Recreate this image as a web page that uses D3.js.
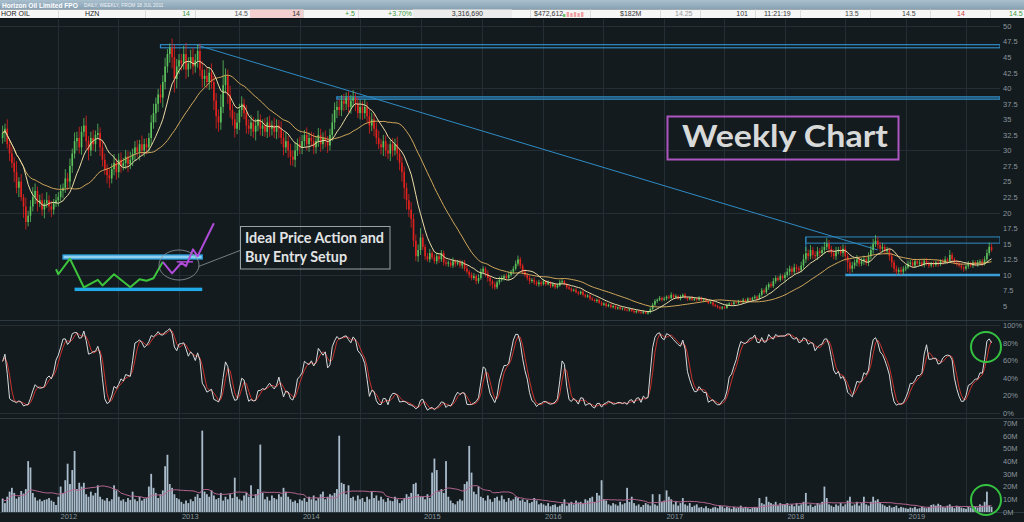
<!DOCTYPE html>
<html>
<head>
<meta charset="utf-8">
<script src="https://cdn.jsdelivr.net/npm/d3@7"></script>
<style>
  html, body { margin: 0; padding: 0; background: #131b1f; overflow: hidden; }
  svg { display: block; }
</style>
</head>
<body>
<svg id="chart" width="1024" height="522"></svg>
<script>
// weekly bars, HZN, from 18 Jul 2011
const startDate = new Date(2011, 6, 18);
const firstOpen = 32.0;

const closes = [
  // 2011
  32.8,33.5,31.0,29.5,28.0,26.5,24.0,25.0,22.5,21.0,18.5,19.5,21.0,22.5,23.5,21.5,22.0,20.5,21.5,22.0,21.0,20.5,21.5,22.0,
  // 2012
  22.5,23.5,24.0,25.5,25.0,27.5,29.5,31.5,32.0,30.5,33.0,34.0,31.5,30.0,32.0,31.0,32.5,32.8,30.5,28.5,27.0,26.0,25.5,27.0,28.0,26.5,
  28.5,27.5,28.0,29.0,27.8,28.5,29.5,30.5,29.8,31.0,30.0,31.0,30.5,32.0,34.5,36.0,37.5,39.0,38.5,41.0,43.5,45.5,46.5,45.0,41.5,43.5,44.5,
  // 2013
  44.0,45.5,43.0,44.0,45.0,43.5,44.5,46.0,43.0,41.5,42.0,41.0,42.5,41.0,38.0,35.5,34.5,37.0,40.5,42.0,39.0,36.5,35.0,33.5,34.5,36.5,
  37.5,36.0,34.0,33.5,34.5,33.0,34.0,35.0,33.5,34.0,33.0,34.5,33.5,34.0,33.0,34.0,33.5,32.0,30.5,31.5,30.0,29.0,28.5,30.0,31.0,30.5,
  // 2014
  31.5,32.5,31.0,32.0,31.5,30.5,31.5,32.5,31.0,32.0,31.5,30.8,32.5,34.5,36.5,37.0,36.5,38.0,37.5,38.5,37.0,38.0,38.5,37.5,36.0,37.0,
  36.0,37.0,35.5,34.0,35.0,33.5,32.0,31.0,30.5,31.5,30.0,29.5,31.0,30.0,31.0,29.5,28.0,26.5,24.0,22.0,20.5,19.0,15.5,13.0,14.0,16.0,
  // 2015
  14.5,13.0,12.5,13.5,12.8,12.2,13.0,12.5,13.5,12.0,11.8,12.0,11.5,12.2,11.8,12.0,11.5,12.0,11.0,10.5,10.0,9.5,9.8,9.0,9.5,10.5,
  11.0,10.2,9.5,9.0,8.5,8.0,8.8,9.2,9.5,9.8,9.5,10.0,10.5,11.0,11.8,12.5,11.5,10.5,10.0,9.5,9.0,9.2,8.8,8.5,8.8,8.5,
  // 2016
  9.0,8.5,8.8,8.2,8.5,8.0,8.3,8.8,9.0,8.5,8.0,7.8,7.5,7.6,7.2,7.0,7.3,6.8,6.5,6.7,6.2,6.0,5.8,6.0,5.5,5.2,
  5.4,5.0,5.2,4.8,5.0,4.6,4.8,4.5,4.6,4.4,4.3,4.5,4.2,4.0,4.2,4.0,3.9,4.1,3.8,4.0,4.5,5.2,5.8,6.0,6.3,6.0,
  // 2017
  6.2,6.5,6.3,6.8,6.4,6.6,6.2,6.5,6.8,6.3,6.1,6.3,6.0,6.2,6.0,6.3,5.9,6.1,5.8,5.5,5.6,5.2,5.0,4.8,4.6,4.8,
  4.7,5.2,5.4,5.3,5.6,5.5,5.8,5.6,6.0,5.8,6.2,6.0,6.3,6.5,6.2,6.8,7.5,7.2,8.0,8.5,8.2,9.0,9.5,9.2,9.8,9.5,
  // 2018
  10.0,10.5,11.0,10.5,11.2,11.0,10.8,11.5,12.5,13.5,13.0,14.0,13.2,13.0,13.8,13.5,14.0,14.5,15.0,14.2,13.5,13.0,13.8,14.0,13.5,14.2,
  13.0,12.0,11.0,11.5,12.0,12.5,11.8,12.2,12.5,12.0,13.0,14.0,15.0,15.5,14.8,14.2,14.5,13.8,14.0,13.0,12.0,11.0,10.5,10.8,10.5,11.0,
  // 2019
  11.2,11.8,12.0,11.5,12.2,11.8,12.0,11.6,12.3,11.8,11.5,11.8,11.6,12.0,11.7,12.2,12.0,12.5,12.2,13.2,
  12.5,12.0,11.8,11.5,11.2,11.0,11.4,11.8,11.5,12.0,11.7,12.0,12.2,11.8,12.5,13.5,14.5,14.0
];

// wick above the body / below the body, per week
const wickUp = [
  1.2,0.8,1.5,0.6,1.0,0.9,1.8,0.7,1.2,0.5,1.4,0.8,1.0,1.6,1.2,0.7,0.9,1.1,0.6,1.3,0.8,0.9,0.7,1.0,
  0.8,1.0,0.7,1.5,0.9,1.2,0.8,1.4,1.0,1.8,0.9,1.2,1.6,0.8,1.0,1.3,0.7,1.5,0.9,1.1,1.0,0.8,1.2,0.9,1.4,0.7,1.0,1.2,0.8,1.1,
  0.9,1.3,0.8,1.0,1.2,0.7,1.4,0.9,1.0,0.8,1.2,1.5,1.0,0.9,1.6,1.1,1.4,0.8,0.7,1.5,2.0,1.2,1.0,
  1.0,1.3,1.8,1.0,1.2,1.5,1.0,1.0,1.2,1.4,1.0,1.3,0.9,1.5,1.0,1.2,1.1,2.0,4.0,1.2,1.0,1.4,0.9,1.2,1.5,1.0,
  1.2,0.8,1.3,1.0,1.2,0.9,1.1,1.4,0.8,1.0,1.2,0.9,1.1,0.8,1.3,1.0,0.9,1.2,1.0,1.4,0.8,1.1,1.0,1.3,0.9,1.2,
  1.0,0.8,1.2,0.9,1.0,1.3,0.8,1.1,1.0,0.9,1.2,0.8,1.0,1.4,1.2,1.0,1.3,0.9,1.1,0.8,1.0,0.9,1.2,0.8,1.0,1.1,
  0.9,1.2,0.8,1.0,1.1,0.9,1.0,1.2,0.8,1.0,0.9,1.1,0.8,1.0,0.9,1.2,0.8,1.0,0.9,0.8,1.0,1.2,0.8,1.0,0.9,1.5,
  0.6,0.4,0.5,0.7,0.4,0.5,0.6,0.3,0.5,0.4,0.5,0.3,0.4,0.6,0.3,0.4,0.5,0.3,0.4,0.5,0.3,0.4,0.5,0.3,0.6,0.5,
  0.4,0.3,0.5,0.4,0.3,0.4,0.3,0.5,0.4,0.3,0.4,0.5,0.3,0.4,0.5,0.6,0.4,0.3,0.4,0.3,0.4,0.3,0.4,0.3,0.4,0.3,
  0.3,0.2,0.3,0.2,0.3,0.2,0.3,0.4,0.3,0.2,0.2,0.3,0.2,0.2,0.3,0.2,0.2,0.3,0.2,0.2,0.2,0.3,0.2,0.2,0.2,0.3,
  0.2,0.2,0.2,0.2,0.2,0.2,0.1,0.2,0.2,0.1,0.2,0.2,0.1,0.2,0.2,0.1,0.2,0.2,0.1,0.2,0.3,0.3,0.3,0.2,0.3,0.2,
  0.3,0.2,0.3,0.4,0.2,0.3,0.2,0.3,0.2,0.3,0.2,0.2,0.3,0.2,0.2,0.3,0.2,0.2,0.2,0.2,0.2,0.2,0.2,0.2,0.2,0.2,
  0.2,0.2,0.2,0.2,0.2,0.2,0.2,0.2,0.3,0.2,0.2,0.2,0.2,0.3,0.2,0.3,0.4,0.3,0.4,0.3,0.4,0.5,0.4,0.3,0.4,0.3,
  0.4,0.6,0.5,0.4,0.6,0.5,0.4,0.6,0.8,1.0,0.6,0.8,0.5,0.6,0.7,0.5,0.6,0.8,0.9,0.6,0.5,0.6,0.7,0.5,0.6,0.7,
  0.5,0.4,0.5,0.6,0.5,0.7,0.4,0.5,0.6,0.4,0.6,0.7,0.8,0.9,0.6,0.5,0.6,0.4,0.5,0.4,0.5,0.4,0.5,0.4,0.5,0.4,
  0.4,0.5,0.4,0.5,0.4,0.3,0.5,0.4,0.3,0.4,0.4,0.3,0.4,0.3,0.4,0.3,0.4,0.5,0.3,0.8,
  0.4,0.3,0.4,0.3,0.4,0.3,0.3,0.4,0.3,0.4,0.3,0.4,0.3,0.4,0.5,0.6,0.7,0.5
];
const wickDown = [
  0.9,1.4,0.7,1.2,0.8,1.6,0.9,1.5,0.6,1.8,1.2,0.7,1.0,0.8,1.1,1.3,0.6,1.0,1.4,0.7,0.9,1.2,0.8,0.6,
  1.0,0.7,1.2,0.8,1.4,0.9,1.1,0.8,1.5,1.0,1.2,0.8,1.3,1.6,0.9,1.0,1.2,0.7,1.4,1.1,0.9,1.3,1.5,0.8,1.0,1.2,0.9,1.1,0.7,1.0,
  1.3,0.8,1.0,1.2,0.9,1.4,0.8,1.0,1.1,0.9,1.2,1.0,1.5,1.3,0.9,1.6,1.2,1.0,1.4,1.8,2.2,1.5,1.2,
  1.2,1.0,1.5,1.2,0.9,1.3,1.0,1.2,1.1,1.4,1.2,1.0,1.3,1.1,1.5,2.0,1.5,1.2,1.0,1.3,1.5,1.2,1.0,1.4,0.9,1.2,
  1.1,1.0,1.3,0.9,1.2,1.0,1.4,0.9,1.1,1.2,0.8,1.0,1.3,1.1,1.0,1.2,1.5,1.0,1.3,0.9,1.2,1.4,1.0,1.2,0.9,1.1,
  1.1,0.9,1.0,1.2,0.8,1.1,1.0,0.9,1.2,0.8,1.0,1.2,0.8,1.0,1.1,1.3,0.9,1.0,1.2,1.0,0.9,1.1,1.0,1.2,0.8,1.0,
  1.1,0.9,1.0,1.3,0.9,1.2,1.0,0.8,1.1,1.4,1.0,0.9,1.2,1.0,0.8,1.1,1.2,1.5,1.8,1.5,1.2,1.4,1.0,0.8,0.9,0.8,
  0.5,0.6,0.4,0.5,0.3,0.4,0.5,0.6,0.4,0.5,0.4,0.5,0.3,0.4,0.5,0.3,0.4,0.5,0.4,0.3,0.5,0.4,0.3,0.5,0.4,0.3,
  0.4,0.5,0.6,0.8,0.7,0.4,0.3,0.4,0.3,0.4,0.3,0.4,0.3,0.4,0.3,0.4,0.5,0.4,0.3,0.4,0.5,0.3,0.4,0.3,0.4,0.3,
  0.2,0.3,0.2,0.3,0.2,0.3,0.2,0.2,0.3,0.2,0.3,0.2,0.3,0.2,0.2,0.3,0.2,0.3,0.2,0.2,0.3,0.2,0.2,0.3,0.2,0.2,
  0.2,0.3,0.2,0.2,0.2,0.2,0.2,0.2,0.2,0.2,0.2,0.2,0.2,0.2,0.2,0.2,0.2,0.2,0.1,0.2,0.2,0.2,0.2,0.3,0.2,0.3,
  0.2,0.3,0.2,0.2,0.3,0.2,0.2,0.3,0.2,0.2,0.3,0.2,0.2,0.2,0.3,0.2,0.2,0.3,0.2,0.2,0.2,0.3,0.2,0.2,0.2,0.2,
  0.2,0.2,0.2,0.2,0.2,0.2,0.2,0.2,0.2,0.2,0.2,0.2,0.2,0.2,0.3,0.2,0.3,0.3,0.3,0.4,0.3,0.3,0.4,0.3,0.3,0.4,
  0.5,0.4,0.6,0.5,0.4,0.6,0.5,0.4,0.5,0.6,0.7,0.5,0.6,0.5,0.6,0.5,0.4,0.6,0.5,0.7,0.6,0.5,0.6,0.5,0.4,0.6,
  0.7,1.5,0.8,0.6,0.5,0.6,0.5,0.4,0.6,0.5,0.6,0.5,0.6,0.5,0.6,0.5,0.6,0.5,0.5,0.7,0.8,0.6,0.5,0.4,0.5,0.4,
  0.4,0.3,0.4,0.3,0.4,0.3,0.4,0.3,0.4,0.3,0.4,0.3,0.4,0.3,0.4,0.3,0.4,0.3,0.4,0.3,
  0.4,0.3,0.4,0.3,0.4,0.5,0.3,0.4,0.3,0.4,0.3,0.4,0.3,0.4,0.3,0.4,0.4,0.3
];

// weekly volume, millions of shares
const volumes = [
  10.5,7.0,12.0,16.0,19.0,15.0,10.5,12.0,16.5,14.5,18.0,40.0,35.0,15.0,11.5,9.0,10.0,8.5,9.5,10.0,11.0,9.0,8.0,5.5,
  12.0,20.0,15.0,25.0,38.0,22.0,33.0,48.0,18.0,23.0,20.0,23.0,14.0,12.0,16.0,13.0,15.0,21.0,12.0,10.0,
  9.0,11.0,8.5,10.0,21.0,17.0,12.0,9.0,10.0,8.0,11.0,9.5,16.0,10.0,8.5,12.0,9.0,10.5,11.0,20.0,
  30.0,19.0,15.0,11.0,14.0,17.0,36.0,45.0,22.0,19.0,14.0,11.0,10.0,
  8.0,6.5,9.0,7.0,10.0,8.5,12.0,14.0,11.0,64.0,16.0,14.0,12.0,17.0,13.0,10.0,11.0,15.0,9.0,12.0,
  10.0,14.0,11.0,27.0,12.0,10.0,9.0,13.0,15.0,12.0,21.0,11.0,14.0,18.0,53.0,15.0,10.0,12.0,9.0,13.0,
  11.0,10.0,14.0,12.0,19.0,16.0,12.0,10.0,8.0,9.0,7.0,10.0,
  9.0,11.0,8.0,12.0,10.0,13.0,9.0,11.0,14.0,16.0,10.0,12.0,14.0,13.0,15.0,18.0,60.0,23.0,22.0,14.0,
  21.0,11.0,12.0,9.0,13.0,10.0,11.0,8.0,12.0,10.0,16.0,11.0,13.0,9.0,12.0,10.0,8.0,11.0,9.0,8.5,
  12.0,10.0,7.0,9.0,11.0,14.0,12.0,15.0,22.0,23.0,14.0,12.0,
  12.0,10.0,14.0,11.0,31.0,42.0,33.0,16.0,18.0,15.0,40.0,12.0,9.0,7.0,6.0,8.5,10.0,9.0,22.0,24.0,
  52.0,31.0,16.0,14.0,20.0,12.0,11.0,9.0,13.0,10.0,8.0,11.0,12.0,9.0,13.0,10.0,8.0,11.0,9.0,10.0,
  12.0,11.0,9.0,10.0,8.0,9.5,7.0,8.0,11.0,9.0,6.0,7.0,
  6.0,5.0,7.0,4.5,5.5,6.0,4.0,5.0,6.5,10.0,5.0,7.0,8.0,6.0,9.0,7.5,8.0,6.5,10.0,9.0,
  11.0,12.0,8.0,15.0,13.0,25.0,10.0,9.0,6.0,5.0,7.0,6.0,5.0,8.0,6.0,7.0,19.0,8.0,12.0,7.0,
  5.0,6.0,4.0,5.5,7.0,6.0,5.0,14.0,6.0,5.0,14.0,8.0,
  9.0,17.0,12.0,10.0,6.0,8.0,5.0,7.0,11.0,6.0,5.0,7.0,4.0,5.0,6.0,3.5,4.0,3.0,4.5,3.0,
  2.5,3.5,4.0,3.0,5.0,4.5,3.0,4.0,3.5,2.5,4.0,3.0,3.5,5.0,3.0,4.0,3.0,2.5,3.5,4.0,
  3.5,11.0,7.0,6.0,12.0,8.0,7.0,6.0,8.0,5.0,7.0,6.0,
  6.0,7.0,5.0,6.0,4.5,7.0,5.0,6.0,8.0,15.0,5.0,6.0,4.0,5.0,7.0,6.0,8.0,20.0,11.0,6.0,
  5.0,4.0,6.0,5.0,7.0,4.5,6.0,9.0,12.0,5.0,6.0,8.0,5.0,7.0,12.0,6.0,5.0,8.0,12.0,9.0,
  10.0,7.0,6.0,5.0,4.0,5.0,3.5,4.0,5.0,3.0,4.0,3.5,
  3.0,2.5,3.5,3.0,4.0,2.5,3.0,4.0,3.5,3.0,4.0,5.5,6.0,5.0,6.5,5.5,4.0,3.5,5.0,6.0,
  4.0,3.0,5.0,4.0,3.5,3.0,2.5,4.0,3.5,3.0,4.0,3.5,6.0,5.0,8.0,16.0,5.0,4.0
];

const priceTicks = [5,7.5,10,12.5,15,17.5,20,22.5,25,27.5,30,32.5,35,37.5,40,42.5,45,47.5,50];
const priceGrid = [10,20,30,40,50];
const stochTicks = [0,20,40,60,80,100];
const volTicks = [0,10,20,30,40,50,60,70];

const headerLabels = ["HOR OIL","HZN","14","14.5","14","+.5","+3.70%","3,316,690","$472,612","$182M","14.25","101","11:21:19","13.5","14.5","14","14.5"];
const headerColors = ["#222","#222","#3d9b3d","#555","#333","#3d9b3d","#3d9b3d","#333","#333","#333","#999","#333","#333","#444","#444","#d03a3a","#3d9b3d"];

// the hand-drawn "ideal setup" sketch, in [week, price]
const setupGreen = [[23.0,10.9],[24.7,10.1],[29.1,12.6],[35.9,8.0],[41.3,9.2],[43.1,8.3],[48.4,10.1],[55.6,8.0],[59.2,9.3],[62.8,9.05],[65.7,9.45],[69.3,12.1]];
const setupPurple = [[69.3,12.1],[73.9,10.25],[77.2,11.95],[79.4,11.4],[82.2,14.1],[84.1,13.0],[91.6,18.3]];

// ---------------------------------------------------------------
const svg = d3.select("#chart");
const W = 1024, plotRight = 1000;

const opens = closes.map((c, i) => i === 0 ? firstOpen : closes[i - 1]);
const highs = closes.map((c, i) => Math.max(c, opens[i]) + wickUp[i]);
const lows = closes.map((c, i) => Math.min(c, opens[i]) - wickDown[i]);

const x = d3.scaleTime().domain([new Date(2012, 0, 1), new Date(2019, 0, 1)]).range([58, 906]);
const xw = i => x(d3.timeWeek.offset(startDate, i));
const yP = d3.scaleLinear().domain([5, 50]).range([306, 26]);
const yS = d3.scaleLinear().domain([0, 100]).range([413, 325]);
const yV = d3.scaleLinear().domain([0, 70]).range([512, 423]);

function sma(arr, n) {
  return arr.map((_, i) => d3.mean(arr.slice(Math.max(0, i - n + 1), i + 1)));
}
const maFast = sma(closes, 10);
const maSlow = sma(closes, 30);
const volMA = sma(volumes, 20);
// stochastic 14, light %K smoothing, %D 3
const rawK = closes.map((c, i) => {
  const s = Math.max(0, i - 13);
  const hh = d3.max(highs.slice(s, i + 1)), ll = d3.min(lows.slice(s, i + 1));
  return hh === ll ? 50 : (c - ll) / (hh - ll) * 100;
});
const stochK = sma(rawK, 2);
const stochD = sma(stochK, 3);

// defs / clips
const defs = svg.append("defs");
defs.append("clipPath").attr("id", "clipP").append("rect").attr("x", 0).attr("y", 19).attr("width", plotRight).attr("height", 301);
defs.append("clipPath").attr("id", "clipS").append("rect").attr("x", 0).attr("y", 321).attr("width", plotRight).attr("height", 96);
const hdrGrad = defs.append("linearGradient").attr("id", "hdr").attr("x1", 0).attr("y1", 0).attr("x2", 0).attr("y2", 1);
hdrGrad.append("stop").attr("offset", "0%").attr("stop-color", "#a9bfcd");
hdrGrad.append("stop").attr("offset", "100%").attr("stop-color", "#86a0b3");

svg.append("rect").attr("width", W).attr("height", 522).attr("fill", "#131b1f");

// grid
const grid = svg.append("g").attr("stroke", "#242e35").attr("stroke-width", 1);
const halfYears = d3.timeMonth.every(6).range(new Date(2011, 9, 1), new Date(2019, 11, 1));
grid.selectAll("line.v").data(halfYears).join("line")
  .attr("x1", d => Math.round(x(d)) + 0.5).attr("x2", d => Math.round(x(d)) + 0.5)
  .attr("y1", 19).attr("y2", 512);
grid.selectAll("line.hp").data(priceGrid).join("line")
  .attr("x1", 0).attr("x2", plotRight).attr("y1", d => Math.round(yP(d)) + 0.5).attr("y2", d => Math.round(yP(d)) + 0.5);
grid.selectAll("line.hs").data([0, 100]).join("line")
  .attr("x1", 0).attr("x2", plotRight).attr("y1", d => Math.round(yS(d)) + 0.5).attr("y2", d => Math.round(yS(d)) + 0.5);
svg.append("g").attr("stroke", "#2d3940").selectAll("line").data([320.5, 418.5, 512.5]).join("line")
  .attr("x1", 0).attr("x2", W).attr("y1", d => d).attr("y2", d => d);

// ---------- price panel
const pricePanel = svg.append("g").attr("clip-path", "url(#clipP)");

// resistance / support annotations
const ann = pricePanel.append("g").attr("fill", "none").attr("stroke", "#2f8bc4");
ann.append("rect").attr("x", xw(68)).attr("y", yP(47.0)).attr("width", plotRight - xw(68)).attr("height", yP(46.5) - yP(47.0)).attr("stroke-width", 1.2);
ann.append("rect").attr("x", xw(144.5)).attr("y", yP(38.6)).attr("width", plotRight - xw(144.5)).attr("height", yP(38.25) - yP(38.6)).attr("stroke-width", 1.4);
ann.append("line").attr("x1", xw(84)).attr("y1", yP(46.9)).attr("x2", xw(377)).attr("y2", yP(14.0)).attr("stroke-width", 1);
ann.append("rect").attr("x", xw(346.3)).attr("y", yP(16.1)).attr("width", plotRight - xw(346.3)).attr("height", yP(15.1) - yP(16.1)).attr("stroke-width", 1);
ann.append("line").attr("x1", xw(346.3)).attr("x2", xw(346.3)).attr("y1", yP(16.1)).attr("y2", yP(13.8)).attr("stroke-width", 1);
ann.append("line").attr("x1", xw(363)).attr("x2", plotRight).attr("y1", yP(10)).attr("y2", yP(10)).attr("stroke", "#3a9fd8").attr("stroke-width", 2.5);

// candles
const bw = 1.6;
const candles = pricePanel.append("g");
candles.selectAll("line").data(closes).join("line")
  .attr("x1", (d, i) => xw(i)).attr("x2", (d, i) => xw(i))
  .attr("y1", (d, i) => yP(highs[i])).attr("y2", (d, i) => yP(lows[i]))
  .attr("stroke", (d, i) => d >= opens[i] ? "#5cc25c" : "#e3221e").attr("stroke-width", 0.8);
candles.selectAll("rect").data(closes).join("rect")
  .attr("x", (d, i) => xw(i) - bw / 2).attr("width", bw)
  .attr("y", (d, i) => yP(Math.max(d, opens[i])))
  .attr("height", (d, i) => Math.max(0.7, Math.abs(yP(d) - yP(opens[i]))))
  .attr("fill", (d, i) => d >= opens[i] ? "#5cc25c" : "#e3221e");

const maLine = d3.line().x((d, i) => xw(i)).y(d => yP(d));
pricePanel.append("path").attr("d", maLine(maSlow)).attr("fill", "none").attr("stroke", "#d2a85a").attr("stroke-width", 1);
pricePanel.append("path").attr("d", maLine(maFast)).attr("fill", "none").attr("stroke", "#ecdca6").attr("stroke-width", 1);

// ideal setup sketch
const sk = svg.append("g");
const skLine = d3.line().x(d => xw(d[0])).y(d => yP(d[1]));
sk.append("rect").attr("x", xw(26)).attr("y", yP(13.2)).attr("width", xw(86.4) - xw(26)).attr("height", yP(12.55) - yP(13.2))
  .attr("fill", "#8fd0f0").attr("stroke", "#2a9ad8").attr("stroke-width", 1.3);
sk.append("rect").attr("x", xw(31.2)).attr("y", yP(7.95)).attr("width", xw(86.4) - xw(31.2)).attr("height", yP(7.4) - yP(7.95))
  .attr("fill", "#22a9e8");
sk.append("path").attr("d", skLine(setupGreen)).attr("fill", "none").attr("stroke", "#3cc43c").attr("stroke-width", 2).attr("stroke-linejoin", "round");
sk.append("path").attr("d", skLine(setupPurple)).attr("fill", "none").attr("stroke", "#b04ad8").attr("stroke-width", 2).attr("stroke-linejoin", "round");
sk.append("path").attr("d", skLine([[75.5, 12.1], [82.3, 12.1]])).attr("stroke", "#b04ad8").attr("stroke-width", 1.5);
sk.append("ellipse").attr("cx", 179).attr("cy", 265).attr("rx", 20).attr("ry", 15)
  .attr("fill", "none").attr("stroke", "#8d989c").attr("stroke-width", 0.8);
sk.append("line").attr("x1", 198.5).attr("y1", 266.5).attr("x2", 240).attr("y2", 250.5).attr("stroke", "#8d989c").attr("stroke-width", 0.8);
sk.append("rect").attr("x", 240.5).attr("y", 226.5).attr("width", 149.5).attr("height", 42.5)
  .attr("fill", "none").attr("stroke", "#9aa3a6").attr("stroke-width", 1);
sk.append("text").attr("x", 245).attr("y", 242.5).text("Ideal Price Action and")
  .attr("textLength", 139).attr("lengthAdjust", "spacingAndGlyphs");
sk.append("text").attr("x", 245).attr("y", 262).text("Buy Entry Setup")
  .attr("textLength", 102).attr("lengthAdjust", "spacingAndGlyphs");
sk.selectAll("text").attr("font-family", "Lato, 'Open Sans', sans-serif").attr("font-weight", "bold")
  .attr("font-size", 15).attr("fill", "#e2e4e4");

// weekly chart label
svg.append("rect").attr("x", 667.5).attr("y", 116.5).attr("width", 231).attr("height", 43)
  .attr("fill", "none").attr("stroke", "#ad55c0").attr("stroke-width", 2);
svg.append("text").attr("x", 682).attr("y", 147).text("Weekly Chart")
  .attr("font-family", "Lato, 'Open Sans', sans-serif").attr("font-weight", "bold").attr("font-size", 31)
  .attr("fill", "#d8d9d9").attr("textLength", 206).attr("lengthAdjust", "spacingAndGlyphs");

// ---------- stochastic panel
const stochPanel = svg.append("g").attr("clip-path", "url(#clipS)");
const sLine = d3.line().x((d, i) => xw(i)).y(d => yS(d));
stochPanel.append("path").attr("d", sLine(stochD)).attr("fill", "none").attr("stroke", "#c8322c").attr("stroke-width", 1);
stochPanel.append("path").attr("d", sLine(stochK)).attr("fill", "none").attr("stroke", "#d9dcdc").attr("stroke-width", 1);

// ---------- volume panel
svg.append("g").selectAll("rect").data(volumes).join("rect")
  .attr("x", (d, i) => xw(i) - 0.9).attr("width", 1.8)
  .attr("y", d => yV(d)).attr("height", d => yV(0) - yV(d))
  .attr("fill", "#a9bccb");
svg.append("path").attr("d", d3.line().x((d, i) => xw(i)).y(d => yV(d))(volMA))
  .attr("fill", "none").attr("stroke", "#b5658f").attr("stroke-width", 1);

// green highlight circles
svg.append("g").attr("fill", "none").attr("stroke", "#35c240").attr("stroke-width", 2)
  .selectAll("circle").data([[986, 347], [986, 500]]).join("circle")
  .attr("cx", d => d[0]).attr("cy", d => d[1]).attr("r", 15);

// ---------- axes
function styleAxis(g) {
  g.select(".domain").remove();
  g.selectAll("text").attr("fill", "#8a959b").attr("font-size", 7.5).attr("font-family", "'Liberation Sans', Arial, sans-serif");
}
svg.append("g").attr("transform", `translate(${plotRight},0)`)
  .call(d3.axisRight(yP).tickValues(priceTicks).tickSize(0).tickPadding(3).tickFormat(d => d)).call(styleAxis);
svg.append("g").attr("transform", `translate(${plotRight},0)`)
  .call(d3.axisRight(yS).tickValues(stochTicks).tickSize(0).tickPadding(3).tickFormat(d => d + "%")).call(styleAxis);
svg.append("g").attr("transform", `translate(${plotRight},0)`)
  .call(d3.axisRight(yV).tickValues(volTicks).tickSize(0).tickPadding(3).tickFormat(d => d + "M")).call(styleAxis);
svg.append("g").attr("transform", "translate(0,512)")
  .call(d3.axisBottom(x).ticks(d3.timeYear).tickSize(0).tickPadding(2).tickFormat(d3.timeFormat("%Y")))
  .call(styleAxis)
  .call(g => g.selectAll("text").attr("text-anchor", "start").attr("dx", 2));

// ---------- header
svg.append("rect").attr("x", 0).attr("y", 0).attr("width", W).attr("height", 9.5).attr("fill", "url(#hdr)");
svg.append("text").attr("x", 2).attr("y", 7.6).text("Horizon Oil Limited FPO")
  .attr("font-family", "'Liberation Sans', Arial, sans-serif").attr("font-weight", "bold").attr("font-size", 6.6)
  .attr("fill", "#ffffff");
svg.append("text").attr("x", 84).attr("y", 7.2).text("DAILY, WEEKLY, FROM 18 JUL 2011")
  .attr("font-family", "'Liberation Sans', Arial, sans-serif").attr("font-size", 4.8)
  .attr("fill", "#eef3f6");
svg.append("rect").attr("x", 0).attr("y", 9.5).attr("width", W).attr("height", 8.5).attr("fill", "#f6f6f6");
svg.append("rect").attr("x", 250).attr("y", 9.5).attr("width", 53).attr("height", 8.5).attr("fill", "#f4cfcf");
svg.append("rect").attr("x", 413).attr("y", 9.5).attr("width", 99).attr("height", 8.5).attr("fill", "#ebebeb");
svg.append("g").attr("stroke", "#dcdcdc").selectAll("line")
  .data([58, 145, 195, 303, 358, 530, 590, 660, 700, 755, 800, 870, 930, 990]).join("line")
  .attr("x1", d => d + 0.5).attr("x2", d => d + 0.5).attr("y1", 9.5).attr("y2", 18);
const miniBars = [3, 5, 4, 5, 4, 5];
svg.append("g").selectAll("rect").data(miniBars).join("rect")
  .attr("x", (d, i) => 563 + i * 3.6).attr("width", 2.4).attr("y", d => 17 - d).attr("height", d => d)
  .attr("fill", (d, i) => i === 0 ? "#6cc46c" : "#f0a0a0");
const headerX = [1, 85, 190, 248, 300, 355, 412, 483, 534, 620, 675, 748, 764, 845, 902, 957, 1009];
const headerAnchor = ["start","start","end","end","end","end","end","end","start","start","start","end","start","start","start","start","start"];
svg.append("g").selectAll("text").data(headerLabels).join("text")
  .attr("x", (d, i) => headerX[i]).attr("y", 16.3).attr("text-anchor", (d, i) => headerAnchor[i])
  .attr("fill", (d, i) => headerColors[i]).attr("font-size", 7).attr("font-family", "'Liberation Sans', Arial, sans-serif")
  .text(d => d);
svg.append("rect").attr("x", 0).attr("y", 18).attr("width", W).attr("height", 1).attr("fill", "#0d1316");
</script>
</body>
</html>
